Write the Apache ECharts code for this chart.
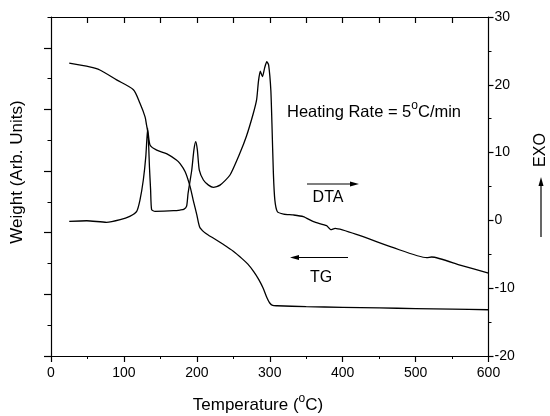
<!DOCTYPE html>
<html><head><meta charset="utf-8">
<script src="https://cdn.jsdelivr.net/npm/echarts@6/dist/echarts.min.js"></script>
<style>html,body{margin:0;padding:0;background:#fff}#c{width:550px;height:416px}</style>
</head><body><div id="c"></div>
<script>
// TG (weight, arbitrary units on left axis)
const tgTemp   = [25, 53, 67, 90, 113, 122, 129, 131, 133.5, 136, 145, 159, 172, 177, 184, 190.5, 195, 200, 204, 210, 216, 223, 235, 250, 262, 270, 278, 285, 291, 296, 300, 304, 310, 350, 400, 450, 500, 550, 600];
const tgWeight = [4.75, 4.69, 4.64, 4.48, 4.32, 4.10, 3.88, 3.75, 3.59, 3.42, 3.34, 3.28, 3.18, 3.12, 2.99, 2.76, 2.53, 2.29, 2.09, 2.01, 1.96, 1.91, 1.82, 1.70, 1.58, 1.49, 1.37, 1.24, 1.10, 0.95, 0.86, 0.82, 0.815, 0.80, 0.79, 0.78, 0.77, 0.76, 0.75];
// DTA (right axis)
const dtaTemp  = [25, 49, 76, 95, 108, 117.5, 122, 126.6, 130, 132.6, 134, 135, 136.6, 138, 142.6, 155, 168, 177, 182, 186, 188, 193, 196, 198.5, 200.7, 203.4, 209, 216, 222.6, 231.8, 245.5, 259, 268, 277.5, 282, 284.5, 287, 290, 293, 296, 298.5, 301.5, 303, 305, 307, 310.5, 319, 332.5, 346, 360, 378, 381.6, 383.7, 389.6, 424, 469.6, 515.4, 522, 561, 600];
const dtaValue = [-0.13, -0.05, -0.28, 0.1, 0.6, 1.34, 3.0, 5.96, 9.4, 13.6, 10.9, 7.9, 4.5, 1.58, 1.34, 1.36, 1.43, 1.53, 1.62, 2.1, 4.0, 7.4, 10.4, 11.6, 10.4, 7.4, 5.96, 5.2, 4.88, 5.2, 6.7, 9.9, 12.4, 15.8, 17.8, 20.5, 22.0, 21.2, 22.5, 23.4, 22.9, 19.2, 14.3, 6.9, 3.0, 1.28, 0.94, 0.80, 0.55, -0.19, -0.78, -1.17, -1.37, -1.17, -2.26, -4.03, -5.5, -5.4, -6.58, -7.76];
// axis ticks
const xMin = 0, xMax = 600, xStep = 100;
const topTicks = [50, 100, 150, 200, 250, 300, 350, 400, 450, 500, 550];
const rightMin = -20, rightMax = 30, rightStep = 10;
const leftMin = 0, leftMax = 5.5;
const leftMajorTicks = [0, 1, 2, 3, 4, 5];
const leftMinorTicks = [0.5, 1.5, 2.5, 3.5, 4.5, 5.5];

const font = 'Liberation Sans, Arial, Helvetica, sans-serif';
const black = '#000';
const chart = echarts.init(document.getElementById('c'), null, {renderer: 'canvas'});
const zip = (a, b) => a.map((v, i) => [v, b[i]]);
const lineW = 1.3;
const supStyle = {fontSize: 12, fontFamily: font, lineHeight: 10, verticalAlign: 'top'};

const option = {
  animation: false,
  backgroundColor: '#fff',
  grid: {left: 51, right: 61.5, top: 17, bottom: 60, containLabel: false},
  xAxis: [
    {type: 'value', position: 'bottom', min: xMin, max: xMax, interval: xStep,
     axisLine: {show: true, onZero: false, lineStyle: {color: black, width: 1.2}},
     axisTick: {show: true, inside: false, length: 6, lineStyle: {color: black, width: 1.2}},
     minorTick: {show: true, splitNumber: 2, length: 3, lineStyle: {color: black, width: 1}},
     axisLabel: {color: black, fontSize: 14, fontFamily: font, margin: 10},
     splitLine: {show: false}},
    {type: 'value', position: 'top', min: xMin, max: xMax, interval: xStep / 2, show: true,
     axisLine: {show: true, onZero: false, lineStyle: {color: black, width: 1.2}},
     axisTick: {show: true, inside: true, length: 6, customValues: topTicks, lineStyle: {color: black, width: 1.2}},
     axisLabel: {show: false}, splitLine: {show: false}}
  ],
  yAxis: [
    {type: 'value', position: 'left', min: leftMin, max: leftMax,
     axisLine: {show: true, onZero: false, lineStyle: {color: black, width: 1.2}},
     axisTick: {show: true, inside: false, length: 7, customValues: leftMajorTicks, lineStyle: {color: black, width: 1.2}},
     axisLabel: {show: false}, splitLine: {show: false}},
    {type: 'value', position: 'left', min: leftMin, max: leftMax,
     axisLine: {show: false},
     axisTick: {show: true, inside: false, length: 3.5, customValues: leftMinorTicks, lineStyle: {color: black, width: 1}},
     axisLabel: {show: false}, splitLine: {show: false}},
    {type: 'value', position: 'right', min: rightMin, max: rightMax, interval: rightStep,
     axisLine: {show: true, onZero: false, lineStyle: {color: black, width: 1.2}},
     axisTick: {show: true, inside: false, length: 5, lineStyle: {color: black, width: 1.2}},
     minorTick: {show: true, splitNumber: 2, length: 3, lineStyle: {color: black, width: 1}},
     axisLabel: {color: black, fontSize: 14, fontFamily: font, margin: 6},
     splitLine: {show: false}}
  ],
  series: [
    {name: 'TG', type: 'line', xAxisIndex: 0, yAxisIndex: 0, data: zip(tgTemp, tgWeight),
     showSymbol: false, smooth: 0.25, lineStyle: {color: black, width: lineW}},
    {name: 'DTA', type: 'line', xAxisIndex: 0, yAxisIndex: 2, data: zip(dtaTemp, dtaValue),
     showSymbol: false, smooth: 0.2, lineStyle: {color: black, width: lineW}},
    {name: 'topref', type: 'line', xAxisIndex: 1, yAxisIndex: 1, data: [], showSymbol: false}
  ],
  graphic: [
    {type: 'text', x: 17, y: 172, rotation: Math.PI / 2,
     style: {text: 'Weight (Arb. Units)', fill: black, font: '17px ' + font, align: 'center', verticalAlign: 'middle'}},
    {type: 'text', x: 258, y: 405,
     style: {text: '{n|Temperature (}{sup|o}{n|C)}', fill: black, font: '17px ' + font, align: 'center', verticalAlign: 'middle',
       rich: {n: {fontSize: 17, fontFamily: font, lineHeight: 24, verticalAlign: 'middle'}, sup: supStyle}}},
    {type: 'text', x: 287, y: 112,
     style: {text: '{n|Heating Rate = 5}{sup|o}{n|C/min}', fill: black, font: '16px ' + font, align: 'left', verticalAlign: 'middle',
       rich: {n: {fontSize: 16.5, fontFamily: font, lineHeight: 24, verticalAlign: 'middle'}, sup: supStyle}}},
    {type: 'text', x: 328, y: 198,
     style: {text: 'DTA', fill: black, font: '16px ' + font, align: 'center', verticalAlign: 'middle'}},
    {type: 'text', x: 321, y: 278,
     style: {text: 'TG', fill: black, font: '16px ' + font, align: 'center', verticalAlign: 'middle'}},
    {type: 'text', x: 541, y: 150, rotation: Math.PI / 2,
     style: {text: 'EXO', fill: black, font: '16px ' + font, align: 'center', verticalAlign: 'middle'}},
    // DTA arrow (right)
    {type: 'line', shape: {x1: 307, y1: 184, x2: 352, y2: 184}, style: {stroke: black, lineWidth: 1.2}},
    {type: 'polygon', shape: {points: [[359, 184], [350, 181.5], [350, 186.5]]}, style: {fill: black}},
    // TG arrow (left)
    {type: 'line', shape: {x1: 297, y1: 257.5, x2: 348, y2: 257.5}, style: {stroke: black, lineWidth: 1.2}},
    {type: 'polygon', shape: {points: [[290, 257.5], [299, 255], [299, 260]]}, style: {fill: black}},
    // EXO arrow (up)
    {type: 'line', shape: {x1: 541, y1: 237, x2: 541, y2: 184}, style: {stroke: black, lineWidth: 1.2}},
    {type: 'polygon', shape: {points: [[541, 177], [538.5, 186], [543.5, 186]]}, style: {fill: black}}
  ]
};
chart.setOption(option);
</script></body></html>
